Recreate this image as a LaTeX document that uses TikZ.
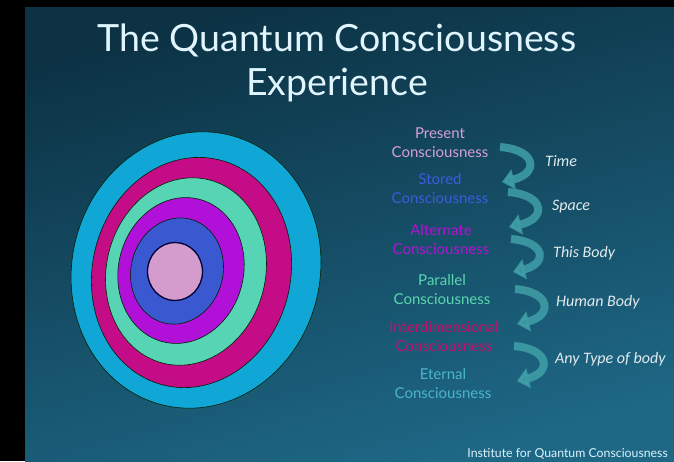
\documentclass[tikz,border=0pt]{standalone}
\usepackage{fontspec}
\setmainfont{Lato}
\newfontfamily\labfont{Carlito}
\usetikzlibrary{arrows.meta}
\definecolor{bgtop}{RGB}{12,50,68}
\definecolor{bgbot}{RGB}{30,104,134}
\definecolor{ringcyan}{RGB}{16,166,214}
\definecolor{ringmag}{RGB}{196,12,134}
\definecolor{ringgreen}{RGB}{86,212,180}
\definecolor{ringpurple}{RGB}{176,16,216}
\definecolor{ringblue}{RGB}{58,88,208}
\definecolor{ringpink}{RGB}{212,156,204}
\definecolor{tpresent}{RGB}{214,160,214}
\definecolor{tstored}{RGB}{60,92,220}
\definecolor{talt}{RGB}{176,20,210}
\definecolor{tpar}{RGB}{92,214,176}
\definecolor{tinter}{RGB}{196,16,108}
\definecolor{tetern}{RGB}{76,180,204}
\definecolor{arrowcol}{RGB}{64,160,168}
\definecolor{labcol}{RGB}{226,234,238}
\begin{document}
\begin{tikzpicture}[x=1pt,y=-1pt,
  ring/.style={draw=black!70!green!40!black, line width=0.6pt},
  conc/.style={font=\fontsize{15}{19}\selectfont, align=center, inner sep=0pt},
  lab/.style={font=\labfont\itshape\fontsize{16}{18}\selectfont, text=labcol, anchor=west, inner sep=0pt},
  curvarrow/.style={draw=arrowcol, opacity=0.85, line width=8pt,
    -{Triangle[width=20pt,length=12pt]}}
]
\useasboundingbox (0,0) rectangle (674,461);
\fill[black] (0,0) rectangle (674,461);
\shade[top color=bgtop, bottom color=bgbot, shading angle=15] (25,7) rectangle (674,461);
% rings
\filldraw[ring, fill=ringcyan, rotate around={-14:(196,270)}] (196,270) ellipse [x radius=124, y radius=139];
\filldraw[ring, fill=ringmag, rotate around={-14:(191.5,272.5)}] (191.5,272.5) ellipse [x radius=99, y radius=116];
\filldraw[ring, fill=ringgreen, rotate around={-14:(186,271.5)}] (186,271.5) ellipse [x radius=79.5, y radius=94.5];
\filldraw[ring, fill=ringpurple, rotate around={-14:(181,270.5)}] (181,270.5) ellipse [x radius=62.5, y radius=73.5];
\filldraw[ring, fill=ringblue, rotate around={-14:(177,271)}] (177,271) ellipse [x radius=46, y radius=53.5];
\filldraw[draw=black!80!blue, line width=1.3pt, fill=ringpink] (175,271.5) ellipse [x radius=27.5, y radius=29];
% title
\node[text=white!88!cyan, font=\fontsize{37.5}{44}\selectfont, align=center] (title) at (337,63)
  {The Quantum Consciousness\\Experience};
% consciousness list
\node[conc, text=tpresent] (present) at (440,143) {Present\\Consciousness};
\node[conc, text=tstored] (stored) at (440,189) {Stored\\Consciousness};
\node[conc, text=talt] (alt) at (441,240) {Alternate\\Consciousness};
\node[conc, text=tpar] (par) at (442,290) {Parallel\\Consciousness};
\node[conc, text=tinter] (inter) at (444,337) {Interdimensional\\Consciousness};
\node[conc, text=tetern] (etern) at (443,384) {Eternal\\Consciousness};
% labels
\node[lab] (time) at (545,161) {Time};
\node[lab] (space) at (552,207) {Space};
\node[lab] (thisbody) at (553,253) {This Body};
\node[lab] (human) at (556,302) {Human Body};
\node[lab] (anytype) at (555,359) {Any Type of body};
% arrows
\coordinate (a1s) at (500,147); \coordinate (a1e) at (502,182);
\coordinate (a2s) at (508,192); \coordinate (a2e) at (509,227);
\coordinate (a3s) at (511,239); \coordinate (a3e) at (513,272);
\coordinate (a4s) at (515,289); \coordinate (a4e) at (517,324);
\coordinate (a5s) at (514,346); \coordinate (a5e) at (517,381);
\draw[curvarrow] (a1s) .. controls (538,150) and (538,174) .. (a1e);
\draw[curvarrow] (a2s) .. controls (546,195) and (546,219) .. (a2e);
\draw[curvarrow] (a3s) .. controls (547,242) and (547,264) .. (a3e);
\draw[curvarrow] (a4s) .. controls (552,292) and (552,316) .. (a4e);
\draw[curvarrow] (a5s) .. controls (551,349) and (551,373) .. (a5e);
% footer
\node[text=white!85!cyan, font=\fontsize{12.3}{14}\selectfont, anchor=base east, inner sep=0pt] (footer) at (668,457) {Institute for Quantum Consciousness};
\end{tikzpicture}
\end{document}
